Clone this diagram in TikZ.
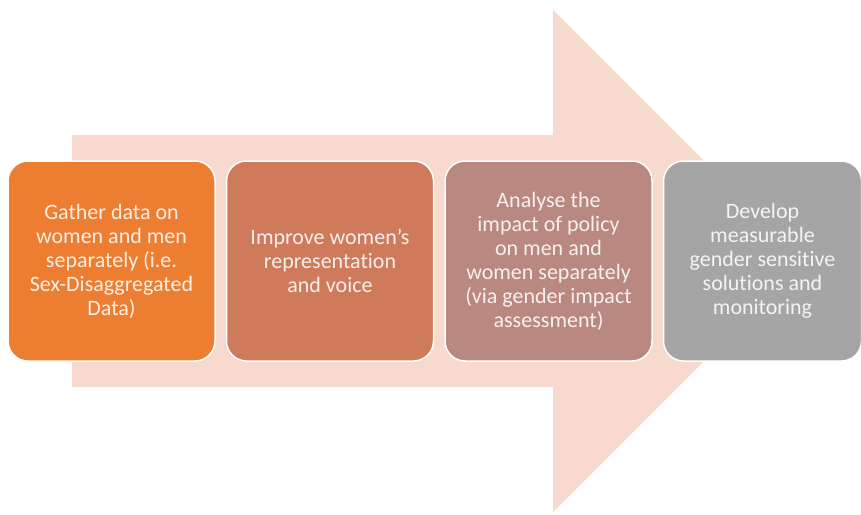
\documentclass[tikz,border=0pt]{standalone}
\usepackage{fontspec}
\setmainfont{Carlito}[Ligatures=NoCommon]
\usepackage{tikz}
\usetikzlibrary{positioning}
\usepackage{xcolor}
\definecolor{arrowpink}{HTML}{F8D9CE}
\definecolor{stepone}{HTML}{ED7D31}
\definecolor{steptwo}{HTML}{D07A5C}
\definecolor{stepthree}{HTML}{B98880}
\definecolor{stepfour}{HTML}{A5A5A5}

\begin{document}
\begin{tikzpicture}[
  x=1pt, y=-1pt,
  stepbox/.style={draw=white, line width=1.5pt, rounded corners=20pt, minimum width=207pt, minimum height=200pt, align=center, text=white, text opacity=0.88, font=\fontsize{22}{24}\selectfont, inner sep=0pt},
  node distance=10pt
]
\useasboundingbox (0,0) rectangle (861,514);

% Big background arrow
\fill[arrowpink] (72,135) -- (553,135) -- (553,10) -- (804,261) -- (553,512) -- (553,387) -- (72,387) -- cycle;

% Steps
\node[stepbox, fill=stepone] (gather) at (111.5,261) {Gather data on\\women and men\\separately (i.e.\\Sex-Disaggregated\\Data)};
\node[stepbox, fill=steptwo, right=of gather] (improve) {Improve women's\\representation\\and voice};
\node[stepbox, fill=stepthree, right=of improve] (analyse) {Analyse the\\impact of policy\\on men and\\women separately\\(via gender impact\\assessment)};
\node[stepbox, fill=stepfour, right=of analyse, minimum width=198pt] (develop) {Develop\\measurable\\gender sensitive\\solutions and\\monitoring};
\end{tikzpicture}
\end{document}
